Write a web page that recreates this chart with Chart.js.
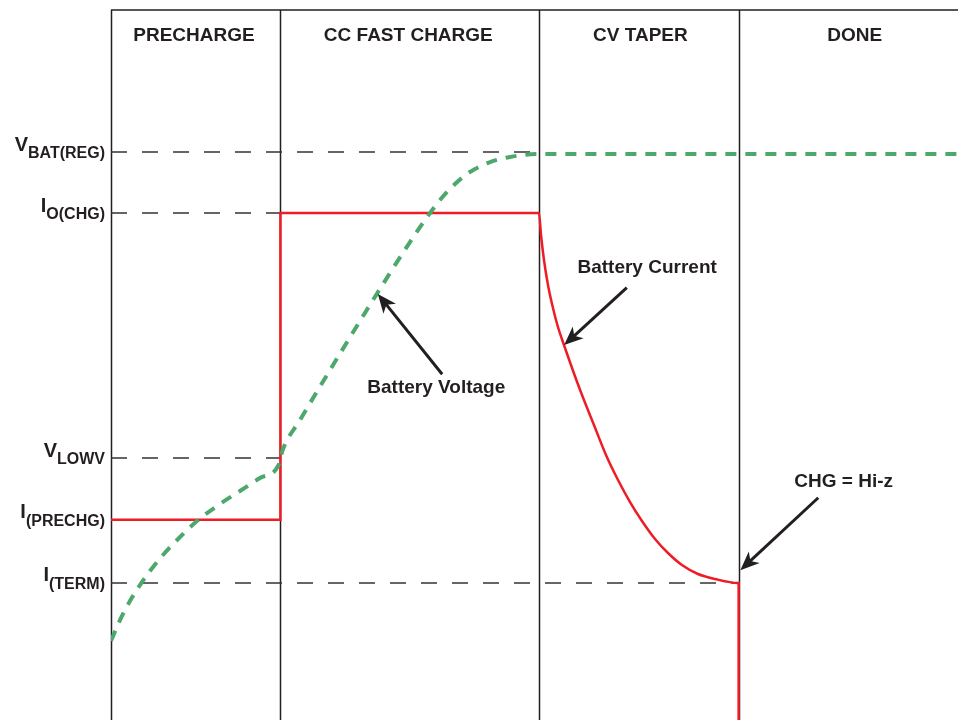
<!DOCTYPE html>
<html>
<head>
<meta charset="utf-8">
<title>Charge Profile</title>
<script src="https://cdn.jsdelivr.net/npm/chart.js@4.4.1/dist/chart.umd.min.js"></script>
<style>
  html, body { margin: 0; padding: 0; background: #fff; }
  canvas { display: block; }
</style>
</head>
<body>
<canvas id="chart" width="958" height="720"></canvas>
<script>
// =========================================================
//  Li-ion charge profile
// =========================================================

// ── Phases (time axis, arbitrary units 0..100) ───────────
const phaseEdges = [0, 20, 50.5, 74.1];
const phaseNames = ["PRECHARGE", "CC FAST CHARGE", "CV TAPER", "DONE"];
const phaseTitleX = [9.8, 35.1, 62.5, 87.8];

// ── Threshold levels (0..100) ────────────────────────────
const levelMain = ["V", "I", "V", "I", "I"];
const levelSub  = ["BAT(REG)", "O(CHG)", "LOWV", "(PRECHG)", "(TERM)"];
const levelValues = [80, 71.4, 36.9, 28.2, 19.3];
const guideEnds   = [50.4, 20, 20, null, 74.1];

// ── Battery voltage ──────────────────────────────────────
const voltageT = [0, 1.06, 2.24, 3.42, 4.6, 6.14, 8.15, 10.15, 12.51, 15.23, 17.59, 19.72,
                  20.31, 22.31, 25.86, 29.4, 32.94, 35.3, 37.07, 38.84, 40.61, 42.38,
                  44.75, 47.11, 50.41, 100];
const voltageV = [11.13, 14.08, 16.76, 19.01, 20.99, 23.24, 25.77, 28.03, 30.14, 32.25, 34.08, 35.77,
                  38.17, 42.25, 49.3, 56.2, 62.96, 67.32, 70.42, 73.24, 75.49, 77.18,
                  78.59, 79.3, 79.72, 79.72];

// ── Battery current ──────────────────────────────────────
const currentT = [0, 20, 20, 50.53, 50.77, 51.12, 51.59, 52.18, 52.77, 53.48, 54.43, 55.61,
                  57.02, 58.44, 59.86, 61.28, 62.69, 64.23, 65.76, 67.41, 69.3, 71.31,
                  74.03, 74.1, 74.1];
const currentV = [28.2, 28.2, 71.4, 71.4, 68.31, 64.79, 61.27, 58.03, 55.35, 52.82, 49.58, 45.77,
                  41.55, 37.32, 33.8, 30.7, 28.03, 25.49, 23.52, 21.83, 20.56, 19.86,
                  19.3, 19.3, 0];

// ── Callouts: text anchor + arrow tail -> tip ─────────────
const calloutText = ["Battery Voltage", "Battery Current", "CHG = Hi-z"];
const calloutAt   = [[38.4, 46.1], [63.3, 63.0], [86.5, 32.8]];
const arrowTail   = [[39.1, 48.7], [60.9, 60.9], [83.5, 31.3]];
const arrowTip    = [[31.5, 60.0], [53.5, 52.8], [74.3, 21.1]];

const INK   = "#231f20";
const RED   = "#ee1c25";
const GREEN = "#4da86c";
const FONT  = "'Liberation Sans', Arial, sans-serif";

const zip = (xs, ys) => xs.map((x, i) => ({ x, y: ys[i] }));

const guideSets = levelValues
  .map((v, i) => guideEnds[i] == null ? null : {
    data: [{ x: 0, y: v }, { x: guideEnds[i], y: v }],
    borderColor: "#333333",
    borderWidth: 1.5,
    borderDash: [16, 15],
    pointRadius: 0,
  })
  .filter(Boolean);

function drawArrow(ctx, x1, y1, x2, y2) {
  const ang = Math.atan2(y2 - y1, x2 - x1);
  const head = 19, half = 8;
  ctx.beginPath();
  ctx.moveTo(x1, y1);
  ctx.lineTo(x2 - Math.cos(ang) * head * 0.7, y2 - Math.sin(ang) * head * 0.7);
  ctx.stroke();
  ctx.save();
  ctx.translate(x2, y2);
  ctx.rotate(ang);
  ctx.beginPath();
  ctx.moveTo(0, 0);
  ctx.lineTo(-head, -half);
  ctx.lineTo(-head * 0.72, 0);
  ctx.lineTo(-head, half);
  ctx.closePath();
  ctx.fill();
  ctx.restore();
}

// frame, phase dividers and all text
const profileDecor = {
  id: "profileDecor",
  beforeDatasetsDraw(chart) {
    const { ctx, chartArea: a, scales: { x } } = chart;
    ctx.save();
    ctx.strokeStyle = INK;
    ctx.lineWidth = 1.5;
    ctx.beginPath();
    ctx.moveTo(a.left, a.top);
    ctx.lineTo(a.right, a.top);
    phaseEdges.forEach(t => {
      const px = Math.round(x.getPixelForValue(t)) + 0.5;
      ctx.moveTo(px, a.top);
      ctx.lineTo(px, a.bottom);
    });
    ctx.stroke();
    ctx.restore();
  },
  afterDatasetsDraw(chart) {
    const { ctx, scales: { x, y } } = chart;
    ctx.save();
    ctx.fillStyle = INK;
    ctx.strokeStyle = INK;

    // phase titles
    ctx.font = `bold 19px ${FONT}`;
    ctx.textAlign = "center";
    ctx.textBaseline = "alphabetic";
    phaseNames.forEach((name, i) => {
      ctx.fillText(name, x.getPixelForValue(phaseTitleX[i]), 41);
    });

    // level labels with subscripts, right aligned to the axis
    const right = x.getPixelForValue(0) - 6;
    levelValues.forEach((v, i) => {
      const py = y.getPixelForValue(v);
      ctx.textAlign = "right";
      ctx.font = `bold 16px ${FONT}`;
      const subW = ctx.measureText(levelSub[i]).width;
      ctx.fillText(levelSub[i], right, py + 6);
      ctx.font = `bold 20px ${FONT}`;
      ctx.fillText(levelMain[i], right - subW, py - 1.5);
    });

    // callouts
    ctx.font = `bold 19px ${FONT}`;
    ctx.textAlign = "center";
    calloutText.forEach((txt, i) => {
      ctx.fillText(txt, x.getPixelForValue(calloutAt[i][0]), y.getPixelForValue(calloutAt[i][1]));
    });
    ctx.lineWidth = 3;
    arrowTail.forEach((p, i) => {
      drawArrow(ctx,
        x.getPixelForValue(p[0]), y.getPixelForValue(p[1]),
        x.getPixelForValue(arrowTip[i][0]), y.getPixelForValue(arrowTip[i][1]));
    });
    ctx.restore();
  },
};

new Chart(document.getElementById("chart"), {
  type: "line",
  data: {
    datasets: [
      {
        label: "Battery Voltage",
        data: zip(voltageT, voltageV),
        borderColor: GREEN,
        borderWidth: 4,
        borderDash: [11, 9],
        pointRadius: 0,
        cubicInterpolationMode: "monotone",
      },
      {
        label: "Battery Current",
        data: zip(currentT, currentV),
        borderColor: RED,
        borderWidth: 2.5,
        pointRadius: 0,
        cubicInterpolationMode: "monotone",
      },
      ...guideSets,
    ],
  },
  options: {
    responsive: false,
    animation: false,
    devicePixelRatio: 1,
    layout: { padding: { left: 111, top: 10, right: 0, bottom: 0 } },
    plugins: { legend: { display: false }, tooltip: { enabled: false } },
    scales: {
      x: { type: "linear", min: 0, max: 100, display: false },
      y: { type: "linear", min: 0, max: 100, display: false },
    },
  },
  plugins: [profileDecor],
});
</script>
</body>
</html>
